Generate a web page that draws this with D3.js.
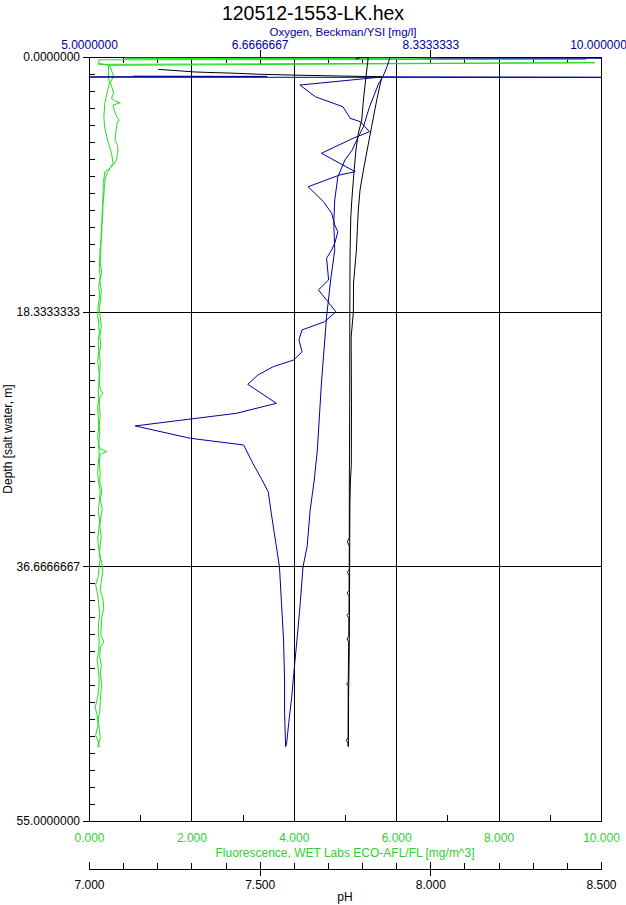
<!DOCTYPE html>
<html><head><meta charset="utf-8">
<script src="https://cdn.jsdelivr.net/npm/d3@7"></script>
<style>
html,body{margin:0;padding:0;background:#fff;}
svg{display:block;font-family:"Liberation Sans",Arial,sans-serif;}
</style></head><body>
<svg id="chart" width="626" height="905"></svg>
<script>
// ---------- DATA (depth m, value) ----------
const chartTitle = "120512-1553-LK.hex";
const depthTicks = [0, 55/3, 110/3, 55];
const oxygenTicks = [5, 20/3, 25/3, 10];
const fluorTicks = [0, 2, 4, 6, 8, 10];
const phTicks = [7.0, 7.5, 8.0, 8.5];

// Fluorescence [mg/m^3] — trace A
const fluorA = [[0.08,6.8],[0.09,0.70],[0.10,1.75],[0.17,9.70],[0.20,0.20],[0.53,0.18],[0.41,9.88],[0.60,0.38],
[1.0,0.38],[1.4,0.38],[1.89,0.40],[2.61,0.35],[3.33,0.31],[4.3,0.29],[4.9,0.30],[5.49,0.33],[6.21,0.38],[6.93,0.44],
[7.65,0.47],[8.01,0.41],[8.26,0.31],[9.09,0.28],[10.29,0.27],[11.1,0.26],[11.97,0.25],[12.7,0.24],[13.41,0.23],[13.89,0.215],
[14.5,0.21],[15.2,0.20],[15.9,0.22],[16.5,0.19],[17.2,0.21],[17.9,0.18],[18.5,0.17],[19.2,0.19],[19.9,0.20],[20.5,0.18],
[21.2,0.19],[21.9,0.17],[22.5,0.19],[23.2,0.21],[23.9,0.18],[24.6,0.19],[25.2,0.17],[25.9,0.18],[26.6,0.19],[27.3,0.17],
[28.0,0.19],[28.6,0.20],[29.3,0.18],[30.0,0.17],[30.7,0.19],[31.3,0.22],[32.0,0.20],[32.7,0.18],[33.4,0.21],[34.0,0.19],
[34.7,0.17],[35.4,0.19],[36.0,0.22],[36.7,0.20],[37.4,0.18],[38.0,0.13],[38.7,0.17],[39.4,0.19],[40.1,0.21],[40.7,0.19],
[41.4,0.18],[42.1,0.20],[42.7,0.19],[43.4,0.16],[44.1,0.18],[44.8,0.20],[45.4,0.19],[46.1,0.17],[46.8,0.12],[47.4,0.16],
[48.1,0.18],[48.8,0.13],[49.4,0.19],[49.7,0.17]];
// Fluorescence — trace B
const fluorB = [[0.45,0.20],[0.62,0.40],[0.94,0.44],[1.2,0.46],[1.42,0.48],[1.65,0.44],[1.89,0.42],[2.2,0.45],[2.61,0.48],
[2.97,0.44],[3.15,0.50],[3.29,0.61],[3.46,0.47],[3.9,0.50],[4.30,0.54],[4.54,0.59],[4.75,0.55],[5.02,0.54],[5.5,0.52],
[5.98,0.51],[6.3,0.55],[6.70,0.57],[7.05,0.55],[7.41,0.54],[7.77,0.47],[8.01,0.41],[8.3,0.36],[8.7,0.32],[9.3,0.30],
[10.0,0.29],[10.7,0.27],[11.4,0.27],[12.1,0.25],[12.8,0.25],[13.5,0.23],[14.2,0.23],[14.8,0.22],[15.5,0.25],[16.1,0.21],
[16.8,0.24],[17.4,0.23],[18.1,0.20],[18.7,0.22],[19.4,0.24],[20.1,0.21],[20.7,0.23],[21.4,0.20],[22.0,0.22],[22.7,0.21],
[23.3,0.19],[23.9,0.22],[24.2,0.27],[24.5,0.21],[25.1,0.20],[25.8,0.22],[26.5,0.20],[27.1,0.21],[27.8,0.19],[28.2,0.21],
[28.4,0.35],[28.6,0.22],[29.3,0.20],[29.9,0.22],[30.6,0.21],[31.2,0.25],[31.9,0.22],[32.5,0.26],[33.2,0.23],[33.8,0.21],
[34.5,0.24],[35.1,0.22],[35.8,0.20],[36.4,0.25],[37.1,0.27],[37.7,0.24],[38.4,0.22],[39.0,0.27],[39.7,0.29],[40.3,0.25],
[41.0,0.24],[41.6,0.23],[42.1,0.29],[42.5,0.22],[43.2,0.21],[43.8,0.24],[44.5,0.22],[45.1,0.25],[45.8,0.23],[46.4,0.22],
[47.1,0.21],[47.7,0.18],[48.4,0.20],[49.0,0.22],[49.5,0.19],[49.7,0.21]];

// Oxygen [mg/l] — downcast (lagged, zigzag)
const oxygenDown = [[1.38,5.43],[1.40,6.74],[1.45,3.0],[1.47,10.8],[1.43,7.87],[2.02,7.06],[2.86,7.21],[3.58,7.48],
[4.41,7.55],[4.66,7.65],[5.38,7.74],[5.85,7.58],[6.93,7.27],[8.26,7.60],[8.49,7.45],[9.34,7.14],[10.42,7.29],[11.25,7.37],
[12.09,7.40],[12.58,7.43],[13.41,7.40],[13.89,7.37],[14.49,7.32],[16.05,7.34],[16.77,7.24],[17.49,7.32],[18.34,7.41],
[19.06,7.30],[19.65,7.08],[20.37,7.05],[21.22,7.08],[21.81,7.00],[22.29,6.80],[22.89,6.65],[23.56,6.55],[24.93,6.83],
[25.65,6.44],[26.56,5.45],[27.45,5.99],[27.93,6.51],[29.25,6.60],[30.45,6.69],[31.29,6.75],[32.85,6.78],[35.25,6.83],
[36.69,6.86],[39.33,6.88],[41.97,6.90],[44.85,6.91],[47.25,6.91],[49.65,6.92]];
// Oxygen — upcast (smooth)
const oxygenUp = [[0.10,10.8],[0.08,8.46],[0.0,7.94],[0.70,7.91],[1.42,7.87],[1.89,7.83],[3.58,7.74],[5.02,7.68],
[5.74,7.63],[6.70,7.57],[7.41,7.50],[8.62,7.43],[10.29,7.40],[11.97,7.39],[13.89,7.40],[16.05,7.36],[18.70,7.32],
[23.47,7.27],[28.29,7.23],[30.45,7.20],[32.61,7.16],[35.25,7.13],[36.69,7.09],[39.57,7.06],[41.25,7.04],[44.37,7.00],
[46.05,6.98],[47.97,6.95],[49.41,6.93],[49.65,6.92]];

// pH — downcast
const phDown = [[0.89,7.203],[1.01,7.272],[1.08,7.311],[1.17,7.428],[1.24,7.496],[1.30,7.594],[1.37,7.735],[1.42,7.858],
[3.10,7.843],[5.02,7.828],[6.70,7.815],[8.14,7.804],[9.58,7.794],[11.02,7.789],[12.46,7.786],[13.89,7.7835],[16.27,7.775],
[18.36,7.7745],[20.16,7.768],[25.0,7.769],[29.4,7.7685],[30.45,7.766],[32.0,7.7645],[34.0,7.764],[38.0,7.7635],
[42.46,7.7625],[46.0,7.7605],[49.65,7.7598]];
// pH — upcast
const phUp = [[0.15,7.781],[0.0,7.800],[0.05,7.818],[1.42,7.8115],[3.10,7.804],[4.54,7.799],[5.49,7.789],[6.70,7.782],
[8.37,7.776],[10.29,7.770],[11.50,7.767],[13.89,7.765],[16.0,7.7645],[20.2,7.764],[24.5,7.7638],[28.3,7.7632],
[30.45,7.7628],[34.6,7.7626],[34.9,7.757],[35.2,7.7626],[36.9,7.7624],[37.1,7.757],[37.3,7.762],[38.4,7.762],
[38.6,7.7565],[38.8,7.762],[40.0,7.7618],[40.2,7.756],[40.4,7.7615],[41.7,7.7612],[41.9,7.756],[42.1,7.761],
[42.5,7.7605],[45.0,7.7596],[45.1,7.755],[45.3,7.7594],[49.0,7.7592],[49.2,7.754],[49.4,7.759],[49.65,7.759]];

// ---------- STYLE ----------
const BLUE = "#0000a0", GREEN = "#22dd22", GREEN_TXT = "#33cc33";
const L = 89, R = 601, T = 57, B = 821, PH_Y = 869;

const svg = d3.select("#chart");
const y = d3.scaleLinear().domain([0, 55]).range([T, B]);
const xF = d3.scaleLinear().domain([0, 10]).range([L, R]);
const xO = d3.scaleLinear().domain([5, 10]).range([L, R]);
const xP = d3.scaleLinear().domain([7, 8.5]).range([L, R]);

svg.append("rect").attr("width", 626).attr("height", 905).attr("fill", "#fff");

// title
svg.append("text").attr("x", 313).attr("y", 20).attr("text-anchor", "middle")
  .attr("font-size", "19.5px").attr("fill", "#000").text(chartTitle);

// gridlines
const grid = svg.append("g").attr("shape-rendering", "crispEdges").attr("stroke", "#000");
[2, 4, 6, 8].forEach(v => grid.append("line").attr("x1", Math.round(xF(v)) + 0.5).attr("x2", Math.round(xF(v)) + 0.5)
  .attr("y1", T).attr("y2", B));
[55/3, 110/3].forEach(v => grid.append("line").attr("y1", Math.round(y(v)) + 0.5).attr("y2", Math.round(y(v)) + 0.5)
  .attr("x1", L).attr("x2", R));

// frame
svg.append("rect").attr("x", L + 0.5).attr("y", T + 0.5).attr("width", R - L).attr("height", B - T)
  .attr("fill", "none").attr("stroke", "#000").attr("shape-rendering", "crispEdges");

function styleAxis(g, color) {
  g.select(".domain").remove();
  g.selectAll("line").attr("stroke", "#000").attr("shape-rendering", "crispEdges");
  g.selectAll("text").attr("fill", color).attr("font-size", "12px").attr("font-family", '"Liberation Sans",Arial,sans-serif');
}

// left axis
const gl = svg.append("g").attr("transform", `translate(${L},0)`)
  .call(d3.axisLeft(y).tickValues(depthTicks).tickSize(6).tickPadding(3).tickFormat(d3.format(".7f")));
styleAxis(gl, "#000");
const glm = svg.append("g").attr("transform", `translate(${L},0)`)
  .call(d3.axisRight(y).tickValues(d3.range(46).map(i => i * 55 / 45)).tickSize(6).tickFormat(""));
styleAxis(glm, "#000");

// top oxygen axis
const gt = svg.append("g").attr("transform", `translate(0,${T})`)
  .call(d3.axisTop(xO).tickValues(oxygenTicks).tickSize(7).tickPadding(1).tickFormat(d3.format(".8r")));
styleAxis(gt, BLUE);
gt.selectAll(".tick").filter(d => d === 5 || d === 10).select("line").remove();
gt.selectAll(".tick").filter(d => d === 10).select("text").attr("dx", "-3");
const gtm = svg.append("g").attr("transform", `translate(0,${T})`)
  .call(d3.axisBottom(xO).tickValues(d3.range(16).map(i => 5 + i / 3)).tickSize(6).tickFormat(""));
styleAxis(gtm, "#000");
const gtM = svg.append("g").attr("transform", `translate(0,${T})`)
  .call(d3.axisBottom(xO).tickValues([20/3, 25/3]).tickSize(7).tickFormat(""));
styleAxis(gtM, "#000");
svg.append("text").attr("x", 343).attr("y", 35.5).attr("text-anchor", "middle").attr("font-size", "11.5px")
  .attr("fill", BLUE).text("Oxygen, Beckman/YSI [mg/l]");

// bottom fluorescence axis
const gb = svg.append("g").attr("transform", `translate(0,${B})`)
  .call(d3.axisBottom(xF).tickValues(fluorTicks).tickSize(0).tickPadding(12).tickFormat(d3.format(".3f")));
styleAxis(gb, GREEN_TXT);
const gbm = svg.append("g").attr("transform", `translate(0,${B})`)
  .call(d3.axisTop(xF).tickValues([1, 3, 5, 7, 9]).tickSize(6).tickFormat(""));
styleAxis(gbm, "#000");
svg.append("text").attr("x", 345).attr("y", 857).attr("text-anchor", "middle").attr("font-size", "12px")
  .attr("fill", GREEN_TXT).text("Fluorescence, WET Labs ECO-AFL/FL [mg/m^3]");

// pH axis
svg.append("line").attr("x1", L).attr("x2", R + 1).attr("y1", PH_Y + 0.5).attr("y2", PH_Y + 0.5)
  .attr("stroke", "#000").attr("shape-rendering", "crispEdges");
const gp = svg.append("g").attr("transform", `translate(0,${PH_Y})`)
  .call(d3.axisBottom(xP).tickValues(phTicks).tickSize(0).tickPadding(11).tickFormat(d3.format(".3f")));
styleAxis(gp, "#000");
const gpm = svg.append("g").attr("transform", `translate(0,${PH_Y})`)
  .call(d3.axisTop(xP).tickValues(d3.range(16).map(i => 7 + i * 0.1)).tickSize(6).tickFormat(""));
styleAxis(gpm, "#000");
const gpM = svg.append("g").attr("transform", `translate(0,${PH_Y})`)
  .call(d3.axisTop(xP).tickValues(phTicks).tickSize(7).tickFormat(""));
styleAxis(gpM, "#000");
const gpM2 = svg.append("g").attr("transform", `translate(0,${PH_Y})`)
  .call(d3.axisBottom(xP).tickValues([7.5, 8.0]).tickSize(7).tickFormat(""));
styleAxis(gpM2, "#000");
svg.append("text").attr("x", 345).attr("y", 901).attr("text-anchor", "middle").attr("font-size", "12px")
  .attr("fill", "#000").text("pH");

// depth label
svg.append("text").attr("transform", `translate(12,${(T + B) / 2}) rotate(-90)`).attr("text-anchor", "middle")
  .attr("font-size", "12px").attr("fill", "#000").text("Depth [salt water, m]");

// series
svg.append("clipPath").attr("id", "plotclip").append("rect")
  .attr("x", L).attr("y", T).attr("width", R - L + 1).attr("height", B - T + 1);
const plot = svg.append("g").attr("clip-path", "url(#plotclip)");
const lineF = d3.line().x(d => xF(d[1])).y(d => y(d[0]));
const lineO = d3.line().x(d => xO(d[1])).y(d => y(d[0]));
const lineP = d3.line().x(d => xP(d[1])).y(d => y(d[0]));
[fluorA, fluorB].forEach(s => plot.append("path").datum(s).attr("d", lineF)
  .attr("fill", "none").attr("stroke", GREEN).attr("stroke-width", 1));
[oxygenDown, oxygenUp].forEach(s => plot.append("path").datum(s).attr("d", lineO)
  .attr("fill", "none").attr("stroke", BLUE).attr("stroke-width", 1));
[phDown, phUp].forEach(s => plot.append("path").datum(s).attr("d", lineP)
  .attr("fill", "none").attr("stroke", "#000").attr("stroke-width", 1));
</script>
</body></html>
